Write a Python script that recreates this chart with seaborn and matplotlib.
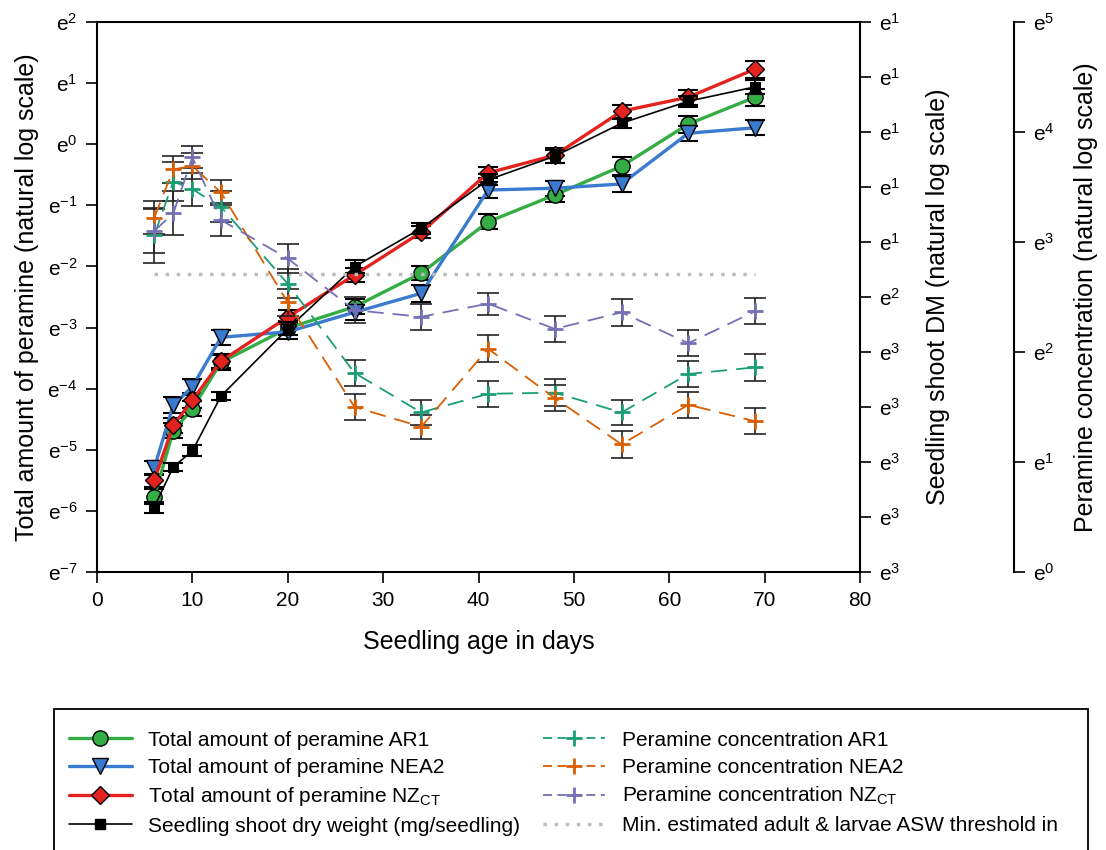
import matplotlib
matplotlib.use("Agg")
import matplotlib.pyplot as plt
import matplotlib.patches as mpatches
import numpy as np
import pandas as pd
import seaborn as sns
from matplotlib.lines import Line2D

sns.set_theme(style="ticks")
plt.rcParams['font.family'] = ['Liberation Sans', 'DejaVu Sans']
plt.rcParams['mathtext.fontset'] = 'custom'
plt.rcParams['mathtext.rm'] = 'Liberation Sans'
plt.rcParams['mathtext.it'] = 'Liberation Sans:italic'
plt.rcParams['text.color'] = 'black'
plt.rcParams['axes.labelcolor'] = 'black'
plt.rcParams['axes.unicode_minus'] = False

# seedling age (days)
days = [6, 8, 10, 13, 20, 27, 34, 41, 48, 55, 62, 69]

# total amount of peramine (natural log units, left axis)
tot_ar1 = [-5.77, -4.69, -4.33, -3.57, -3.01, -2.66, -2.11, -1.27, -0.83, -0.36, 0.33, 0.77]
tot_ar1_err = [0.12, 0.12, 0.12, 0.12, 0.12, 0.12, 0.12, 0.12, 0.12, 0.15, 0.14, 0.14]
tot_nea2 = [-5.30, -4.27, -3.97, -3.16, -3.07, -2.75, -2.44, -0.75, -0.72, -0.65, 0.18, 0.27]
tot_nea2_err = [0.12, 0.13, 0.13, 0.12, 0.12, 0.12, 0.14, 0.13, 0.12, 0.13, 0.12, 0.12]
tot_nzct = [-5.50, -4.60, -4.19, -3.55, -2.83, -2.14, -1.44, -0.47, -0.18, 0.54, 0.77, 1.23]
tot_nzct_err = [0.11, 0.12, 0.12, 0.12, 0.12, 0.12, 0.1, 0.09, 0.12, 0.11, 0.12, 0.14]

# seedling shoot DM (middle axis units)
shoot_dm = [1.18, 1.91, 2.20, 3.20, 4.42, 5.55, 6.25, 7.13, 7.56, 8.16, 8.56, 8.82]
shoot_dm_err = [0.1, 0.08, 0.1, 0.08, 0.12, 0.12, 0.1, 0.1, 0.12, 0.08, 0.1, 0.12]

# peramine concentration (natural log units, far right axis)
conc_ar1 = [3.06, 3.55, 3.48, 3.32, 2.62, 1.81, 1.45, 1.62, 1.63, 1.45, 1.80, 1.86]
conc_ar1_err = [0.25, 0.18, 0.15, 0.14, 0.13, 0.12, 0.11, 0.12, 0.12, 0.11, 0.12, 0.12]
conc_nea2 = [3.22, 3.66, 3.69, 3.45, 2.45, 1.50, 1.32, 2.03, 1.58, 1.16, 1.52, 1.37]
conc_nea2_err = [0.15, 0.12, 0.12, 0.11, 0.12, 0.12, 0.11, 0.12, 0.12, 0.12, 0.12, 0.12]
conc_nzct = [3.10, 3.26, 3.77, 3.20, 2.85, 2.38, 2.32, 2.44, 2.21, 2.36, 2.08, 2.37]
conc_nzct_err = [0.2, 0.2, 0.1, 0.15, 0.13, 0.12, 0.12, 0.1, 0.12, 0.12, 0.12, 0.12]

threshold = 2.71

left_ticks = list(range(-7, 3))
mid_tick_labels = ['3', '3', '3', '3', '3', '2', '1', '1', '1', '1', '1']
conc_ticks = list(range(0, 6))

green = '#35ad45'
blue = '#3a7bd0'
red = '#e2231f'
teal, orange, purple = sns.color_palette("Dark2")[:3]

fig = plt.figure(figsize=(11.06, 8.5), dpi=100)
ax = fig.add_axes([0.0877, 0.3271, 0.6899, 0.647])
ax2 = ax.twinx()
ax3 = ax.twinx()

tick_fs = 15
lab_fs = 18

# ---- total amount (left axis) ----
tot = [(tot_ar1, tot_ar1_err, green, 'o', 11, "Total amount of peramine AR1"),
       (tot_nea2, tot_nea2_err, blue, 'v', 11, "Total amount of peramine NEA2"),
       (tot_nzct, tot_nzct_err, red, 'D', 9.5, r"Total amount of peramine NZ$_{\mathregular{CT}}$")]
handles1 = []
for vals, err, col, mk, ms, lab in tot:
    ax.errorbar(days, vals, yerr=err, fmt='none', ecolor='black', elinewidth=1.5,
                capsize=7, capthick=1.5, zorder=3)
    sns.lineplot(x=days, y=vals, ax=ax, color=col, lw=2.4, marker=mk, markersize=ms,
                 markeredgecolor='black', markeredgewidth=1.0, zorder=4)
    handles1.append(Line2D([], [], color=col, lw=2.4, marker=mk, markersize=ms,
                           markeredgecolor='black', markeredgewidth=1.0, label=lab))

ax.set_xlim(0, 80)
ax.set_ylim(-7, 2)
ax.set_xticks(range(0, 81, 10))
ax.set_yticks(left_ticks)
ax.set_yticklabels([r'$\mathregular{e^{%d}}$' % t for t in left_ticks])
ax.set_xlabel("Seedling age in days", fontsize=lab_fs, labelpad=14)
ax.set_ylabel("Total amount of peramine (natural log scale)", fontsize=lab_fs, labelpad=6)
ax.tick_params(axis='both', direction='out', length=8, width=1.2, labelsize=tick_fs,
               colors='black', pad=6)
for s in ['left', 'bottom', 'top']:
    ax.spines[s].set_color('black')
    ax.spines[s].set_linewidth(1.5)
ax.spines['right'].set_visible(False)

# ---- seedling shoot DM (middle axis) ----
ax2.errorbar(days, shoot_dm, yerr=shoot_dm_err, fmt='none', ecolor='black', elinewidth=1.5,
             capsize=7, capthick=1.5, zorder=3)
sns.lineplot(x=days, y=shoot_dm, ax=ax2, color='black', lw=1.2, marker='s', markersize=7,
             markeredgecolor='black', zorder=4)
h_dm = Line2D([], [], color='black', lw=1.2, marker='s', markersize=7,
              label="Seedling shoot dry weight (mg/seedling)")
ax2.set_ylim(0, 10)
ax2.set_yticks(range(0, 11))
ax2.set_yticklabels([r'$\mathregular{e^{%s}}$' % t for t in mid_tick_labels])
ax2.set_ylabel("Seedling shoot DM (natural log scale)", fontsize=lab_fs, labelpad=18)
ax2.tick_params(axis='y', direction='out', length=8, width=1.2, labelsize=tick_fs,
                colors='black', pad=6)
ax2.spines['right'].set_color('black')
ax2.spines['right'].set_linewidth(1.5)
for s in ['left', 'top', 'bottom']:
    ax2.spines[s].set_visible(False)

# ---- peramine concentration (far right axis) ----
ax3.spines['right'].set_position(('axes', 1.2018))
for s in ['left', 'top', 'bottom']:
    ax3.spines[s].set_visible(False)
ax3.spines['right'].set_color('black')
ax3.spines['right'].set_linewidth(1.5)

ax3.plot([days[0], days[-1]], [threshold, threshold], color='#bdbdbd', lw=2.5,
         linestyle=(0, (1, 2.2)), zorder=2)
conc = [(conc_ar1, conc_ar1_err, teal, "Peramine concentration AR1"),
        (conc_nea2, conc_nea2_err, orange, "Peramine concentration NEA2"),
        (conc_nzct, conc_nzct_err, purple, r"Peramine concentration NZ$_{\mathregular{CT}}$")]
handles2 = []
for vals, err, col, lab in conc:
    ax3.errorbar(days, vals, yerr=err, fmt='none', ecolor='#222222', elinewidth=1.2,
                 capsize=8, capthick=1.2, zorder=3)
    sns.lineplot(x=days, y=vals, ax=ax3, color=col, lw=1.3, marker='+', markersize=12,
                 markeredgewidth=2, markeredgecolor=col, dashes=False,
                 linestyle=(0, (9, 5)), zorder=4)
    handles2.append(Line2D([], [], color=col, lw=1.3, linestyle=(0, (5, 3)), marker='+',
                           markersize=12, markeredgewidth=2, markeredgecolor=col, label=lab))
h_thr = Line2D([], [], color='#bdbdbd', lw=2.5, linestyle=(0, (1, 2.2)),
               label="Min. estimated adult & larvae ASW threshold in")

ax3.set_ylim(0, 5)
ax3.set_yticks(conc_ticks)
ax3.set_yticklabels([r'$\mathregular{e^{%d}}$' % t for t in conc_ticks])
ax3.set_ylabel("Peramine concentration (natural log scale)", fontsize=lab_fs, labelpad=14)
ax3.tick_params(axis='y', direction='out', length=8, width=1.2, labelsize=tick_fs,
                colors='black', pad=6)

for a in (ax, ax2, ax3):
    a.grid(False)
ax.set_facecolor('none')

# legend box, open at the bottom edge of the figure
box = mpatches.Rectangle((54 / 1106, -0.05), (1088 - 54) / 1106, (850 - 709) / 850 + 0.05,
                         transform=fig.transFigure, fill=False, edgecolor='black', lw=1.3)
fig.patches.append(box)

handles = handles1 + [h_dm] + handles2 + [h_thr]
leg = fig.legend(handles=handles, loc='upper left', ncol=2, mode='expand',
                 bbox_to_anchor=(69 / 1106, 1 - 739 / 850, (1058 - 69) / 1106, 0.01),
                 fontsize=15, frameon=False,
                 handlelength=3.0, handletextpad=0.8, labelspacing=0.4,
                 borderpad=0, borderaxespad=0)

fig.savefig("out.png", dpi=100, facecolor='white')
